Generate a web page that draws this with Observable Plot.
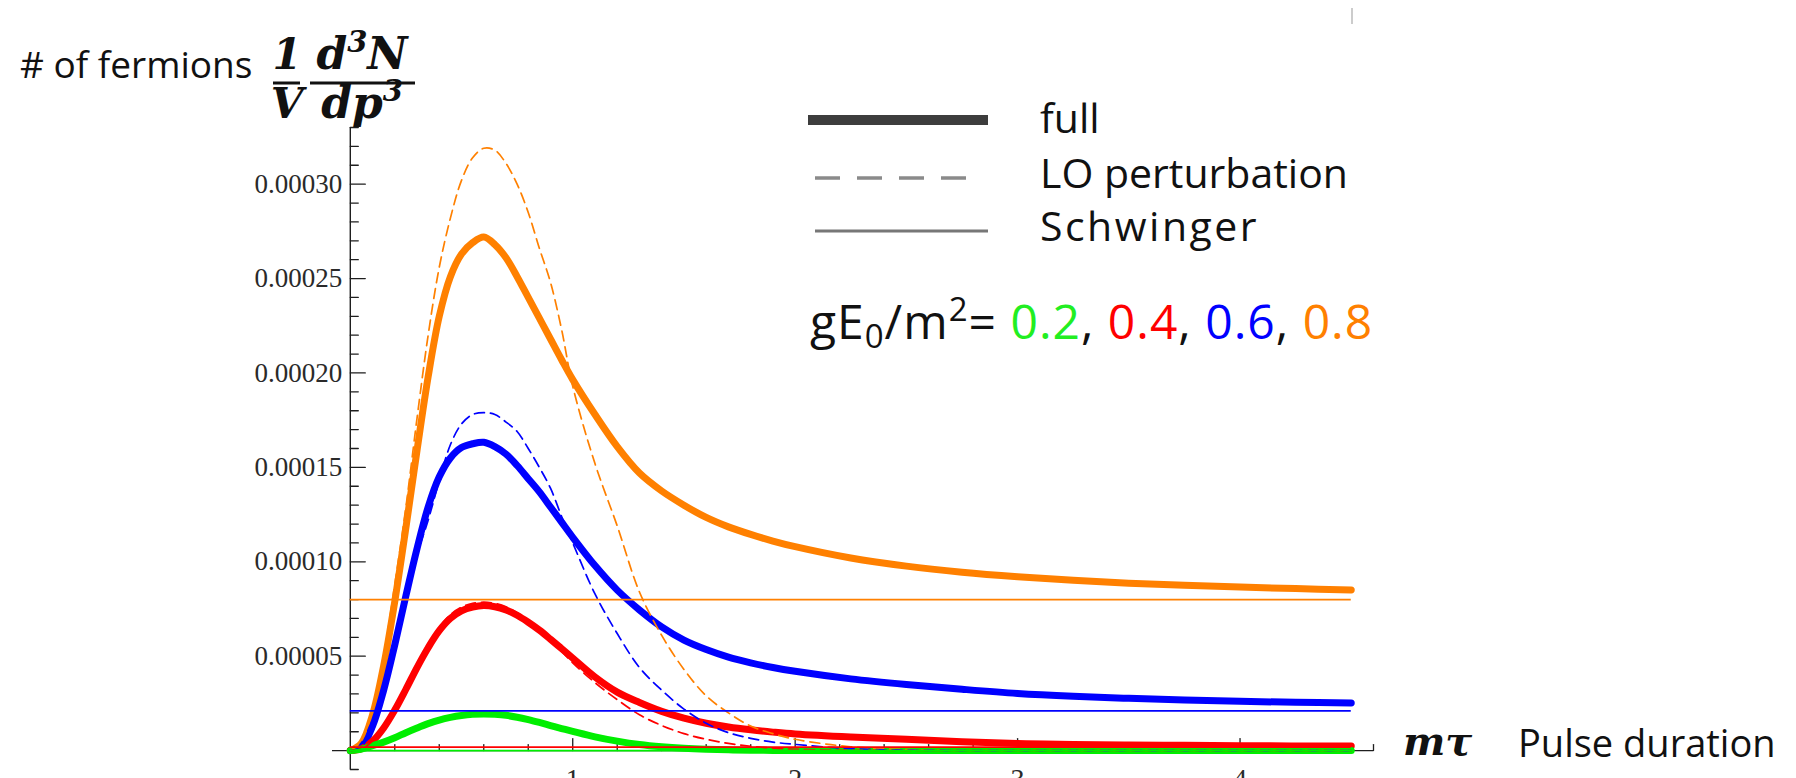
<!DOCTYPE html>
<html><head><meta charset="utf-8">
<script src="https://cdn.jsdelivr.net/npm/d3@7"></script>
<script src="https://cdn.jsdelivr.net/npm/@observablehq/plot@0.6"></script>
<style>
html,body{margin:0;padding:0;background:#fff;overflow:hidden;width:1796px;height:778px;}
#chart{position:absolute;left:0;top:0;}
#overlay{position:absolute;left:0;top:0;pointer-events:none;}
</style></head><body>
<div id="chart"></div>
<svg id="overlay" width="1796" height="778"></svg>
<script>
// pulse duration m*tau (shared sampling grid)
const tau = [0,0.05,0.1,0.15,0.2,0.25,0.3,0.35,0.4,0.45,0.5,0.55,0.6,0.65,0.7,0.75,0.8,0.85,0.9,0.95,1.0,1.1,1.2,1.3,1.4,1.5,1.6,1.7,1.8,1.9,2.0,2.25,2.5,2.75,3.0,3.25,3.5,3.75,4.0,4.25,4.5];
// values in units of 1e-5
const fullGreen  = [0,0.08,0.26,0.45,0.68,0.95,1.2,1.43,1.62,1.76,1.86,1.92,1.94,1.92,1.87,1.77,1.64,1.49,1.33,1.17,1.02,0.73,0.5,0.32,0.2,0.12,0.07,0.04,0.02,0.01,0.005,0,0,0,0,0,0,0,0,0,0];
const fullRed    = [0,0.1,0.5,1.2,2.15,3.25,4.4,5.45,6.35,7.0,7.4,7.6,7.68,7.62,7.45,7.17,6.8,6.38,5.9,5.4,4.9,3.9,3.1,2.55,2.08,1.72,1.45,1.25,1.1,0.98,0.88,0.72,0.6,0.47,0.38,0.33,0.3,0.28,0.26,0.25,0.24];
const fullBlue   = [0,0.2,1.3,3.2,5.6,8.2,10.7,12.9,14.5,15.5,16.05,16.25,16.33,16.1,15.7,15.1,14.4,13.7,12.9,12.1,11.3,9.8,8.5,7.45,6.55,5.85,5.35,4.95,4.65,4.4,4.2,3.8,3.5,3.25,3.03,2.88,2.77,2.68,2.61,2.56,2.52];
const fullOrange = [0,0.4,1.9,4.5,7.9,11.8,15.9,19.8,23.0,25.1,26.3,26.9,27.2,26.8,26.1,25.1,24.0,22.9,21.8,20.7,19.65,17.8,16.1,14.7,13.75,13.0,12.35,11.85,11.45,11.1,10.8,10.2,9.77,9.45,9.21,9.02,8.87,8.76,8.66,8.58,8.51];
const loGreen    = [0,0.08,0.26,0.45,0.69,0.96,1.21,1.44,1.64,1.78,1.88,1.94,1.96,1.94,1.88,1.78,1.64,1.48,1.31,1.14,0.98,0.68,0.45,0.28,0.16,0.09,0.05,0.02,0.01,0.005,0,0,0,0,0,0,0,0,0,0,0];
const loRed      = [0,0.1,0.5,1.2,2.15,3.25,4.4,5.55,6.5,7.2,7.6,7.8,7.86,7.8,7.62,7.3,6.9,6.4,5.85,5.25,4.65,3.6,2.7,1.9,1.33,0.9,0.6,0.38,0.23,0.13,0.07,0.02,0,0,0,0,0,0,0,0,0];
const loBlue     = [0,0.2,1.3,3.2,5.7,8.3,10.4,12.2,14.3,16.2,17.3,17.8,17.9,17.8,17.4,16.9,16.0,15.0,13.9,12.4,11.0,8.3,6.2,4.4,3.2,2.2,1.45,0.95,0.65,0.45,0.33,0.1,0.03,0,0,0,0,0,0,0,0];
const loOrange   = [0,0.5,2.2,5.0,8.8,12.9,17.6,22.0,25.6,28.2,30.2,31.4,31.9,31.8,31.1,30.0,28.5,26.6,24.8,22.3,19.3,15.2,11.9,8.4,6.1,4.3,2.9,2.0,1.3,0.9,0.6,0.2,0.05,0,0,0,0,0,0,0,0];
// Schwinger (constant-field) rates, units of 1e-5, for gE0/m^2 = 0.2, 0.4, 0.6, 0.8
const schwinger  = [0.001,0.18,2.1,8.0];
const fields = ["0.2","0.4","0.6","0.8"];
const colors = ["#00ee00","#ff0000","#0000ff","#ff8000"];
const tauSpan = [0, 4.5];
// axis ticks
const xMajor = [1,2,3,4];
const xMinor = [0.2,0.4,0.6,0.8,1.2,1.4,1.6,1.8,2.2,2.4,2.6,2.8,3.2,3.4,3.6,3.8,4.2,4.4,4.6];
const yMajor = [5,10,15,20,25,30];
const yMinor = [-1,1,2,3,4,6,7,8,9,11,12,13,14,16,17,18,19,21,22,23,24,26,27,28,29,31,32,33];

const S = 1e-5;
const fullSets = [fullGreen, fullRed, fullBlue, fullOrange];
const loSets = [loGreen, loRed, loBlue, loOrange];
const fullRows = [], loRows = [];
// draw order: orange, blue, red, green (green on top)
[3,2,1,0].forEach(k => {
  tau.forEach((t,i) => {
    fullRows.push({tau:t, v: fullSets[k][i]*S, field: fields[k]});
    loRows.push({tau:t, v: loSets[k][i]*S, field: fields[k]});
  });
});
const schwRows = fields.map((f,k) => ({field: f, v: schwinger[k]*S}));

const tickShape = {draw(ctx, l) { ctx.moveTo(0,0); ctx.lineTo(0,-l); }};
const axisColor = "#1e1e1e";
const serif = "'Liberation Serif', 'Times New Roman', serif";

const chart = Plot.plot({
  width: 1796, height: 778,
  marginLeft: 332, marginRight: 423, marginTop: 127, marginBottom: 9,
  x: {domain: [-0.08, 4.6], axis: null},
  y: {domain: [-1*S, 33*S], axis: null},
  color: {domain: fields, range: colors},
  style: {background: "transparent"},
  marks: [
    Plot.ruleY([0], {stroke: axisColor, strokeWidth: 1.4}),
    Plot.ruleX([0], {stroke: axisColor, strokeWidth: 1.4}),
    Plot.vector(xMajor, {x: d => d, y: 0, length: 12, rotate: 0, anchor: "start", shape: tickShape, stroke: axisColor, fill: "none", strokeWidth: 1.3}),
    Plot.vector(xMinor, {x: d => d, y: 0, length: 6, rotate: 0, anchor: "start", shape: tickShape, stroke: axisColor, fill: "none", strokeWidth: 1.3}),
    Plot.vector(yMajor, {x: 0, y: d => d*S, length: 15, rotate: 90, anchor: "start", shape: tickShape, stroke: axisColor, fill: "none", strokeWidth: 1.3}),
    Plot.vector(yMinor, {x: 0, y: d => d*S, length: 8, rotate: 90, anchor: "start", shape: tickShape, stroke: axisColor, fill: "none", strokeWidth: 1.3}),
    Plot.text(yMajor, {x: 0, y: d => d*S, text: d => (d*S).toFixed(5), textAnchor: "end", dx: -8, fontFamily: serif, fontSize: 27, fill: "#2a2a2a"}),
    Plot.text(xMajor, {x: d => d, y: 0, text: d => String(d), lineAnchor: "top", dy: 17, fontFamily: serif, fontSize: 28, fill: "#2a2a2a"}),
    Plot.line(fullRows, {x: "tau", y: "v", z: "field", stroke: "field", strokeWidth: 7, curve: "catmull-rom"}),
    Plot.line(loRows, {x: "tau", y: "v", z: "field", stroke: "field", strokeWidth: 1.7, strokeDasharray: "10,6", curve: "catmull-rom"}),
    Plot.ruleY(schwRows, {y: "v", x1: tauSpan[0], x2: tauSpan[1], stroke: "field", strokeWidth: 1.7})
  ]
});
document.getElementById("chart").appendChild(chart);

// ---- annotations: axis labels and legend ----
const ov = d3.select("#overlay");
const sans = "'Open Sans', 'Noto Sans', sans-serif";
const math = "'DejaVu Serif', serif";
function text(x, y, s, o = {}) {
  const t = ov.append("text").attr("x", x).attr("y", y).text(s)
    .attr("font-family", o.family || sans).attr("font-size", o.size || 40)
    .attr("font-weight", o.weight || "normal").attr("font-style", o.style || "normal")
    .attr("text-anchor", o.anchor || "start").attr("fill", o.fill || "#111");
  if (o.spacing) t.attr("letter-spacing", o.spacing);
  return t;
}
text(20, 78, "# of fermions", {size: 37});
// 1/V d^3N/dp^3
const mo = {family: math, size: 42, weight: "bold", style: "italic", anchor: "middle"};
text(287, 69, "1", mo);
text(287, 118, "V", mo);
function mathText(x, y, parts) {
  const t = ov.append("text").attr("x", x).attr("y", y).attr("text-anchor", "middle")
    .attr("font-family", math).attr("font-size", 44).attr("font-weight", "bold")
    .attr("font-style", "italic").attr("fill", "#111");
  parts.forEach(([s, dy, fs]) => { const sp = t.append("tspan").text(s); if (dy) sp.attr("dy", dy); if (fs) sp.attr("font-size", fs); });
}
mathText(362, 69, [["d"],["3",-17,29],["N",17]]);
mathText(362, 118, [["dp"],["3",-17,29]]);
ov.append("line").attr("x1", 273).attr("x2", 300).attr("y1", 83).attr("y2", 83).attr("stroke", "#111").attr("stroke-width", 3);
ov.append("line").attr("x1", 310).attr("x2", 415).attr("y1", 83).attr("y2", 83).attr("stroke", "#111").attr("stroke-width", 3);

// x-axis label
text(1403, 755, "mτ", {family: math, size: 40, weight: "bold", style: "italic"});
text(1518, 757, "Pulse duration", {size: 38});

// legend
ov.append("line").attr("x1", 808).attr("x2", 988).attr("y1", 120).attr("y2", 120).attr("stroke", "#3d3d3d").attr("stroke-width", 10);
ov.append("line").attr("x1", 815).attr("x2", 978).attr("y1", 178).attr("y2", 178).attr("stroke", "#8a8a8a").attr("stroke-width", 3.5).attr("stroke-dasharray", "25,17");
ov.append("line").attr("x1", 815).attr("x2", 988).attr("y1", 231).attr("y2", 231).attr("stroke", "#777").attr("stroke-width", 3);
text(1040, 133, "full", {size: 41});
text(1040, 188, "LO perturbation", {size: 41});
text(1040, 241, "Schwinger", {size: 41, spacing: 2.5});
const ge = ov.append("text").attr("x", 810).attr("y", 339).attr("font-family", sans)
  .attr("font-size", 48).attr("letter-spacing", 1).attr("fill", "#111");
ge.append("tspan").text("gE");
ge.append("tspan").attr("dy", 9).attr("font-size", 33).text("0");
ge.append("tspan").attr("dy", -9).text("/m");
ge.append("tspan").attr("dy", -18).attr("font-size", 33).text("2");
ge.append("tspan").attr("dy", 18).text("= ");
fields.forEach((f, k) => {
  ge.append("tspan").attr("fill", colors[k] === "#00ee00" ? "#22ee22" : colors[k]).text(f);
  if (k < fields.length - 1) ge.append("tspan").text(", ");
});
// small grey mark at top right of the original image
ov.append("line").attr("x1", 1352).attr("x2", 1352).attr("y1", 8).attr("y2", 24).attr("stroke", "#bbb").attr("stroke-width", 1.5);
</script>
</body></html>
